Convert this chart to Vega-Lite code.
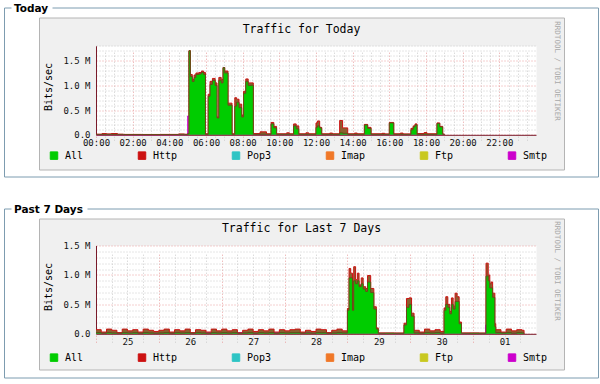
{
  "$schema": "https://vega.github.io/schema/vega-lite/v6.json",
  "background": "#ffffff",
  "padding": {"left": 3, "top": 3.5, "right": 3, "bottom": 3},
  "spacing": 17,
  "datasets": {
    "today": [
      {"t":0,"all":0.008,"http":0.012,"smtp":0.003},
      {"t":0.33,"all":0.010,"http":0.025,"smtp":0.003},
      {"t":0.58,"all":0.010,"http":0.018,"smtp":0.003},
      {"t":0.83,"all":0.010,"http":0.026,"smtp":0.003},
      {"t":1.17,"all":0.008,"http":0.012,"smtp":0.003},
      {"t":1.5,"all":0.006,"http":0.008,"smtp":0.002},
      {"t":2.5,"all":0.006,"http":0.007,"smtp":0.002},
      {"t":3.5,"all":0.006,"http":0.008,"smtp":0.002},
      {"t":4.5,"all":0.010,"http":0.016,"smtp":0.003},
      {"t":4.83,"all":0.008,"http":0.010,"smtp":0.003},
      {"t":5.0,"all":0.020,"http":0.022,"smtp":0.38},
      {"t":5.07,"all":1.70,"http":1.70,"smtp":0.01},
      {"t":5.15,"all":1.18,"http":1.22,"smtp":0.01},
      {"t":5.25,"all":1.08,"http":1.12,"smtp":0.01},
      {"t":5.35,"all":1.16,"http":1.21,"smtp":0.01},
      {"t":5.45,"all":1.22,"http":1.25,"smtp":0.01},
      {"t":5.62,"all":1.23,"http":1.26,"smtp":0.01},
      {"t":5.75,"all":1.26,"http":1.29,"smtp":0.01},
      {"t":5.87,"all":1.22,"http":1.26,"smtp":0.01},
      {"t":5.97,"all":0.010,"http":0.020,"smtp":0.005},
      {"t":6.12,"all":0.78,"http":0.82,"smtp":0.01},
      {"t":6.22,"all":1.02,"http":1.08,"smtp":0.01},
      {"t":6.35,"all":1.10,"http":1.14,"smtp":0.01},
      {"t":6.5,"all":1.00,"http":1.05,"smtp":0.01},
      {"t":6.6,"all":0.34,"http":0.36,"smtp":0.01},
      {"t":6.7,"all":1.10,"http":1.16,"smtp":0.01},
      {"t":6.83,"all":1.05,"http":1.12,"smtp":0.01},
      {"t":6.93,"all":1.36,"http":1.36,"smtp":0.01},
      {"t":7.02,"all":1.25,"http":1.29,"smtp":0.01},
      {"t":7.2,"all":0.60,"http":0.64,"smtp":0.01},
      {"t":7.42,"all":0.010,"http":0.020,"smtp":0.005},
      {"t":7.57,"all":0.58,"http":0.75,"smtp":0.01},
      {"t":7.67,"all":0.66,"http":0.72,"smtp":0.01},
      {"t":7.8,"all":0.55,"http":0.62,"smtp":0.01},
      {"t":7.95,"all":0.36,"http":0.40,"smtp":0.01},
      {"t":8.05,"all":0.84,"http":0.88,"smtp":0.01},
      {"t":8.17,"all":1.08,"http":1.13,"smtp":0.01},
      {"t":8.3,"all":1.00,"http":1.05,"smtp":0.01},
      {"t":8.58,"all":0.010,"http":0.025,"smtp":0.005},
      {"t":8.95,"all":0.012,"http":0.060,"smtp":0.005},
      {"t":9.3,"all":0.010,"http":0.020,"smtp":0.005},
      {"t":9.55,"all":0.22,"http":0.25,"smtp":0.005},
      {"t":9.7,"all":0.14,"http":0.17,"smtp":0.005},
      {"t":9.85,"all":0.010,"http":0.020,"smtp":0.005},
      {"t":10.4,"all":0.012,"http":0.040,"smtp":0.005},
      {"t":10.55,"all":0.010,"http":0.020,"smtp":0.005},
      {"t":10.78,"all":0.18,"http":0.22,"smtp":0.005},
      {"t":10.92,"all":0.12,"http":0.18,"smtp":0.005},
      {"t":11.06,"all":0.010,"http":0.020,"smtp":0.005},
      {"t":11.45,"all":0.010,"http":0.040,"smtp":0.005},
      {"t":11.6,"all":0.010,"http":0.020,"smtp":0.005},
      {"t":12.0,"all":0.15,"http":0.24,"smtp":0.005},
      {"t":12.08,"all":0.18,"http":0.28,"smtp":0.005},
      {"t":12.2,"all":0.14,"http":0.15,"smtp":0.005},
      {"t":12.31,"all":0.010,"http":0.020,"smtp":0.005},
      {"t":12.75,"all":0.010,"http":0.035,"smtp":0.005},
      {"t":12.9,"all":0.010,"http":0.020,"smtp":0.005},
      {"t":13.29,"all":0.04,"http":0.29,"smtp":0.005},
      {"t":13.45,"all":0.03,"http":0.14,"smtp":0.005},
      {"t":13.73,"all":0.010,"http":0.020,"smtp":0.005},
      {"t":14.1,"all":0.010,"http":0.035,"smtp":0.005},
      {"t":14.25,"all":0.010,"http":0.020,"smtp":0.005},
      {"t":14.64,"all":0.20,"http":0.21,"smtp":0.005},
      {"t":14.82,"all":0.13,"http":0.15,"smtp":0.005},
      {"t":15.0,"all":0.010,"http":0.020,"smtp":0.005},
      {"t":15.6,"all":0.010,"http":0.030,"smtp":0.005},
      {"t":15.75,"all":0.010,"http":0.018,"smtp":0.005},
      {"t":16.0,"all":0.24,"http":0.25,"smtp":0.005},
      {"t":16.24,"all":0.010,"http":0.020,"smtp":0.005},
      {"t":16.6,"all":0.010,"http":0.035,"smtp":0.005},
      {"t":16.75,"all":0.010,"http":0.018,"smtp":0.005},
      {"t":17.18,"all":0.10,"http":0.13,"smtp":0.005},
      {"t":17.3,"all":0.16,"http":0.18,"smtp":0.005},
      {"t":17.4,"all":0.20,"http":0.22,"smtp":0.005},
      {"t":17.51,"all":0.010,"http":0.025,"smtp":0.005},
      {"t":17.9,"all":0.015,"http":0.045,"smtp":0.005},
      {"t":18.05,"all":0.010,"http":0.020,"smtp":0.005},
      {"t":18.6,"all":0.23,"http":0.24,"smtp":0.005},
      {"t":18.75,"all":0.16,"http":0.17,"smtp":0.005},
      {"t":18.91,"all":0.010,"http":0.015,"smtp":0.005},
      {"t":19.0,"all":0,"http":0,"smtp":0}
    ],
    "week": [
      {"t":0.000,"all":0.020,"http":0.07,"smtp":0.006},
      {"t":0.083,"all":0.010,"http":0.03,"smtp":0.006},
      {"t":0.167,"all":0.020,"http":0.08,"smtp":0.012},
      {"t":0.250,"all":0.015,"http":0.06,"smtp":0.006},
      {"t":0.333,"all":0.010,"http":0.02,"smtp":0.006},
      {"t":0.417,"all":0.020,"http":0.08,"smtp":0.006},
      {"t":0.500,"all":0.015,"http":0.05,"smtp":0.010},
      {"t":0.583,"all":0.020,"http":0.07,"smtp":0.006},
      {"t":0.667,"all":0.010,"http":0.03,"smtp":0.006},
      {"t":0.750,"all":0.020,"http":0.08,"smtp":0.006},
      {"t":0.833,"all":0.015,"http":0.06,"smtp":0.006},
      {"t":0.917,"all":0.010,"http":0.04,"smtp":0.006},
      {"t":1.000,"all":0.015,"http":0.06,"smtp":0.006},
      {"t":1.083,"all":0.020,"http":0.08,"smtp":0.006},
      {"t":1.167,"all":0.010,"http":0.03,"smtp":0.006},
      {"t":1.250,"all":0.020,"http":0.07,"smtp":0.012},
      {"t":1.333,"all":0.015,"http":0.05,"smtp":0.006},
      {"t":1.417,"all":0.020,"http":0.08,"smtp":0.006},
      {"t":1.500,"all":0.010,"http":0.02,"smtp":0.006},
      {"t":1.583,"all":0.020,"http":0.07,"smtp":0.006},
      {"t":1.667,"all":0.015,"http":0.06,"smtp":0.006},
      {"t":1.750,"all":0.010,"http":0.03,"smtp":0.010},
      {"t":1.833,"all":0.020,"http":0.08,"smtp":0.006},
      {"t":1.917,"all":0.015,"http":0.05,"smtp":0.006},
      {"t":2.000,"all":0.020,"http":0.08,"smtp":0.006},
      {"t":2.083,"all":0.015,"http":0.05,"smtp":0.006},
      {"t":2.167,"all":0.020,"http":0.07,"smtp":0.006},
      {"t":2.250,"all":0.010,"http":0.02,"smtp":0.012},
      {"t":2.333,"all":0.015,"http":0.06,"smtp":0.006},
      {"t":2.417,"all":0.020,"http":0.08,"smtp":0.006},
      {"t":2.500,"all":0.010,"http":0.04,"smtp":0.006},
      {"t":2.583,"all":0.020,"http":0.07,"smtp":0.006},
      {"t":2.667,"all":0.015,"http":0.05,"smtp":0.006},
      {"t":2.750,"all":0.020,"http":0.08,"smtp":0.006},
      {"t":2.833,"all":0.010,"http":0.03,"smtp":0.010},
      {"t":2.917,"all":0.020,"http":0.07,"smtp":0.006},
      {"t":3.000,"all":0.015,"http":0.05,"smtp":0.006},
      {"t":3.083,"all":0.020,"http":0.07,"smtp":0.006},
      {"t":3.167,"all":0.020,"http":0.08,"smtp":0.006},
      {"t":3.250,"all":0.010,"http":0.03,"smtp":0.006},
      {"t":3.333,"all":0.015,"http":0.06,"smtp":0.012},
      {"t":3.417,"all":0.010,"http":0.04,"smtp":0.006},
      {"t":3.500,"all":0.020,"http":0.08,"smtp":0.006},
      {"t":3.583,"all":0.020,"http":0.07,"smtp":0.006},
      {"t":3.667,"all":0.010,"http":0.02,"smtp":0.006},
      {"t":3.750,"all":0.015,"http":0.06,"smtp":0.006},
      {"t":3.833,"all":0.020,"http":0.08,"smtp":0.006},
      {"t":3.917,"all":0.015,"http":0.05,"smtp":0.006},
      {"t":4.000,"all":0.40,"http":0.43,"smtp":0.008},
      {"t":4.026,"all":0.95,"http":1.11,"smtp":0.008},
      {"t":4.052,"all":0.95,"http":1.03,"smtp":0.008},
      {"t":4.080,"all":0.40,"http":0.43,"smtp":0.008},
      {"t":4.100,"all":0.90,"http":1.14,"smtp":0.008},
      {"t":4.130,"all":0.85,"http":0.92,"smtp":0.008},
      {"t":4.158,"all":0.90,"http":1.03,"smtp":0.008},
      {"t":4.185,"all":0.80,"http":0.83,"smtp":0.008},
      {"t":4.220,"all":0.85,"http":0.95,"smtp":0.008},
      {"t":4.250,"all":0.76,"http":0.80,"smtp":0.008},
      {"t":4.290,"all":0.72,"http":0.77,"smtp":0.008},
      {"t":4.320,"all":0.88,"http":0.99,"smtp":0.008},
      {"t":4.370,"all":0.70,"http":0.77,"smtp":0.008},
      {"t":4.420,"all":0.42,"http":0.46,"smtp":0.008},
      {"t":4.460,"all":0.08,"http":0.10,"smtp":0.006},
      {"t":4.490,"all":0.010,"http":0.015,"smtp":0.004},
      {"t":4.600,"all":0.012,"http":0.014,"smtp":0.004},
      {"t":4.750,"all":0.010,"http":0.013,"smtp":0.004},
      {"t":4.900,"all":0.15,"http":0.18,"smtp":0.006},
      {"t":4.940,"all":0.45,"http":0.60,"smtp":0.006},
      {"t":4.980,"all":0.50,"http":0.61,"smtp":0.006},
      {"t":5.020,"all":0.30,"http":0.35,"smtp":0.006},
      {"t":5.060,"all":0.015,"http":0.06,"smtp":0.006},
      {"t":5.143,"all":0.010,"http":0.03,"smtp":0.006},
      {"t":5.226,"all":0.020,"http":0.08,"smtp":0.006},
      {"t":5.310,"all":0.015,"http":0.05,"smtp":0.006},
      {"t":5.393,"all":0.020,"http":0.07,"smtp":0.006},
      {"t":5.476,"all":0.010,"http":0.04,"smtp":0.006},
      {"t":5.538,"all":0.40,"http":0.44,"smtp":0.006},
      {"t":5.565,"all":0.50,"http":0.63,"smtp":0.006},
      {"t":5.597,"all":0.45,"http":0.50,"smtp":0.006},
      {"t":5.629,"all":0.34,"http":0.38,"smtp":0.006},
      {"t":5.655,"all":0.50,"http":0.61,"smtp":0.006},
      {"t":5.682,"all":0.42,"http":0.47,"smtp":0.006},
      {"t":5.713,"all":0.55,"http":0.69,"smtp":0.006},
      {"t":5.745,"all":0.55,"http":0.63,"smtp":0.006},
      {"t":5.777,"all":0.17,"http":0.20,"smtp":0.006},
      {"t":5.814,"all":0.010,"http":0.015,"smtp":0.004},
      {"t":5.950,"all":0.012,"http":0.014,"smtp":0.004},
      {"t":6.100,"all":0.010,"http":0.013,"smtp":0.004},
      {"t":6.200,"all":0.010,"http":0.013,"smtp":0.15},
      {"t":6.205,"all":0.98,"http":1.20,"smtp":0.008},
      {"t":6.240,"all":0.90,"http":1.00,"smtp":0.008},
      {"t":6.265,"all":0.78,"http":0.85,"smtp":0.008},
      {"t":6.285,"all":0.78,"http":0.88,"smtp":0.008},
      {"t":6.310,"all":0.62,"http":0.69,"smtp":0.008},
      {"t":6.345,"all":0.12,"http":0.17,"smtp":0.006},
      {"t":6.360,"all":0.020,"http":0.07,"smtp":0.006},
      {"t":6.443,"all":0.015,"http":0.03,"smtp":0.006},
      {"t":6.526,"all":0.020,"http":0.08,"smtp":0.006},
      {"t":6.610,"all":0.010,"http":0.05,"smtp":0.006},
      {"t":6.693,"all":0.020,"http":0.07,"smtp":0.006},
      {"t":6.776,"all":0.015,"http":0.06,"smtp":0.006},
      {"t":6.810,"all":0,"http":0,"smtp":0}
    ]
  },
  "resolve": {"legend": {"color": "independent"}},
  "vconcat": [
    {
      "title": {"text": "Today", "anchor": "start", "frame": "group", "dx": -25, "offset": -7},
      "width": 525,
      "height": 152,
      "data": {"name": "today"},
      "resolve": {"scale": {"x": "independent", "y": "independent"}, "axis": {"x": "independent", "y": "independent"}},
      "layer": [
        {
          "mark": {"type": "area", "interpolate": "step-after", "color": "#8a6030"},
          "encoding": {
            "x": {"field": "t", "type": "quantitative", "scale": {"domain": [0, 24], "range": [57, 497], "nice": false, "zero": false},
                  "axis": {"orient": "top", "labels": false, "ticks": false, "domain": false,
                           "values": [12], "grid": true, "gridColor": "#ffffff", "gridWidth": 440, "gridOpacity": 1,
                           "title": "Traffic for Today", "titleFont": "DejaVu Sans Mono", "titleFontSize": 11.5, "titleFontWeight": "normal",
                           "titleColor": "#000000", "titleX": 262, "titleY": 11.7, "titleAlign": "center", "titleBaseline": "middle"}},
            "y": {"field": "http", "type": "quantitative", "scale": {"domain": [0, 1.8], "range": [117.3, 28.3], "nice": false, "zero": false},
                  "axis": {"orient": "right", "labels": false, "ticks": false, "domain": false, "grid": false,
                           "title": "RRDTOOL / TOBI OETIKER", "titleFont": "DejaVu Sans Mono", "titleFontSize": 7.5, "titleFontWeight": "normal",
                           "titleColor": "#a8a8a8", "titleAngle": 90, "titleX": -8, "titleY": 53, "titleAlign": "center", "titleBaseline": "middle"}}
          }
        },
        {
          "mark": {"type": "line", "interpolate": "step-after", "strokeWidth": 1},
          "encoding": {
            "x": {"field": "t", "type": "quantitative", "scale": {"domain": [0, 24], "range": [57, 497], "nice": false, "zero": false}, "axis": null},
            "y": {"field": "http", "type": "quantitative", "scale": {"domain": [0, 1.8], "range": [117.3, 28.3], "nice": false, "zero": false}, "axis": null},
            "color": {"datum": "Http", "type": "nominal"}
          }
        },
        {
          "mark": {"type": "line", "interpolate": "step-after", "strokeWidth": 1},
          "encoding": {
            "x": {"field": "t", "type": "quantitative", "scale": {"domain": [-5.01818, 27.38182], "range": [-35, 559], "nice": false, "zero": false},
                  "axis": {"orient": "top", "offset": 10, "labels": false, "ticks": false, "grid": false, "title": null,
                           "domainColor": "#7d9cb0", "domainWidth": 1, "domainDash": [7, 41, 600]}},
            "y": {"field": "smtp", "type": "quantitative", "scale": {"domain": [-0.84337, 2.57461], "range": [159, -10], "nice": false, "zero": false},
                  "axis": {"orient": "left", "offset": 35, "labels": false, "ticks": false, "grid": false, "title": null,
                           "domainColor": "#7d9cb0", "domainWidth": 1}},
            "color": {"datum": "Smtp", "type": "nominal"}
          }
        },
        {
          "mark": {"type": "area", "interpolate": "step-after", "opacity": 1},
          "encoding": {
            "x": {"field": "t", "type": "quantitative", "scale": {"domain": [0, 24], "range": [57, 497], "nice": false, "zero": false},
                  "axis": {"orient": "bottom", "offset": -34.7, "title": null,
                           "values": [0,0.5,1,1.5,2,2.5,3,3.5,4,4.5,5,5.5,6,6.5,7,7.5,8,8.5,9,9.5,10,10.5,11,11.5,12,12.5,13,13.5,14,14.5,15,15.5,16,16.5,17,17.5,18,18.5,19,19.5,20,20.5,21,21.5,22,22.5,23,23.5],
                           "labelExpr": "datum.value % 2 === 0 ? (datum.value < 10 ? '0' : '') + datum.value + ':00' : ''",
                           "grid": true, "gridDash": [1, 2],
                           "gridColor": {"condition": {"test": "datum.value % 2 === 0", "value": "#e9a0a0"}, "value": "#cccccc"},
                           "ticks": false, "domainColor": "#7a1a2a", "labelFont": "DejaVu Sans Mono", "labelFontSize": 9,
                           "labelColor": "#111111", "labelPadding": 4, "labelOverlap": false, "labelFlush": false}},
            "y": {"field": "all", "type": "quantitative", "scale": {"domain": [0, 1.8], "range": [117.3, 28.3], "nice": false, "zero": false},
                  "axis": {"orient": "left", "offset": -57,
                           "values": [0,0.1,0.2,0.3,0.4,0.5,0.6,0.7,0.8,0.9,1.0,1.1,1.2,1.3,1.4,1.5,1.6,1.7,1.8],
                           "labelExpr": "datum.value === 0 ? '0.0' : (round(datum.value*10) % 5 === 0 ? format(datum.value, '.1f') + ' M' : '')",
                           "grid": true, "gridDash": [1, 2],
                           "gridColor": {"condition": {"test": "round(datum.value*10) % 5 === 0", "value": "#e9a0a0"}, "value": "#cccccc"},
                           "ticks": false, "domainColor": "#7a1a2a", "labelFont": "DejaVu Sans Mono", "labelFontSize": 9,
                           "labelColor": "#111111", "labelPadding": 6, "labelBaseline": "middle",
                           "title": "Bits/sec", "titleFont": "DejaVu Sans Mono", "titleFontSize": 10, "titleFontWeight": "normal",
                           "titleColor": "#000000", "titleX": -48, "titleY": 69, "titleAlign": "center", "titleBaseline": "middle"}},
            "color": {"datum": "All", "type": "nominal",
                      "scale": {"domain": ["All", "Http", "Pop3", "Imap", "Ftp", "Smtp"],
                                "range": ["#00cc00", "#cc1111", "#2ec4c4", "#f07828", "#c8c820", "#cc00cc"]},
                      "legend": {"orient": "none", "legendX": 10, "legendY": 133, "direction": "horizontal", "columns": 6,
                                 "title": null, "symbolType": "square", "symbolSize": 56, "symbolStrokeColor": "#000000",
                                 "symbolStrokeWidth": 1, "labelFont": "DejaVu Sans Mono", "labelFontSize": 10, "labelColor": "#000000",
                                 "labelOffset": 6, "columnPadding": 52}}
          }
        },
        {
          "mark": {"type": "line", "interpolate": "step-after", "strokeWidth": 1, "color": "#6b4a1a"},
          "encoding": {
            "x": {"field": "t", "type": "quantitative", "scale": {"domain": [-5.01818, 27.38182], "range": [-35, 559], "nice": false, "zero": false},
                  "axis": {"orient": "bottom", "offset": 7, "labels": false, "ticks": false, "grid": false, "title": null,
                           "domainColor": "#7d9cb0", "domainWidth": 1}},
            "y": {"field": "all", "type": "quantitative", "scale": {"domain": [-0.84337, 2.57461], "range": [159, -10], "nice": false, "zero": false},
                  "axis": {"orient": "right", "offset": 34, "labels": false, "ticks": false, "grid": false, "title": null,
                           "domainColor": "#7d9cb0", "domainWidth": 1}}
          }
        }
      ]
    },
    {
      "title": {"text": "Past 7 Days", "anchor": "start", "frame": "group", "dx": -25, "offset": -7},
      "width": 525,
      "height": 151,
      "data": {"name": "week"},
      "resolve": {"scale": {"x": "independent", "y": "independent"}, "axis": {"x": "independent", "y": "independent"}},
      "layer": [
        {
          "mark": {"type": "area", "interpolate": "step-after", "color": "#8a6030"},
          "encoding": {
            "x": {"field": "t", "type": "quantitative", "scale": {"domain": [0, 7], "range": [57, 497], "nice": false, "zero": false},
                  "axis": {"orient": "top", "labels": false, "ticks": false, "domain": false,
                           "values": [3.5], "grid": true, "gridColor": "#ffffff", "gridWidth": 440, "gridOpacity": 1,
                           "title": "Traffic for Last 7 Days", "titleFont": "DejaVu Sans Mono", "titleFontSize": 11.5, "titleFontWeight": "normal",
                           "titleColor": "#000000", "titleX": 262, "titleY": 10.3, "titleAlign": "center", "titleBaseline": "middle"}},
            "y": {"field": "http", "type": "quantitative", "scale": {"domain": [0, 1.5], "range": [115.3, 27], "nice": false, "zero": false},
                  "axis": {"orient": "right", "labels": false, "ticks": false, "domain": false, "grid": false,
                           "title": "RRDTOOL / TOBI OETIKER", "titleFont": "DejaVu Sans Mono", "titleFontSize": 7.5, "titleFontWeight": "normal",
                           "titleColor": "#a8a8a8", "titleAngle": 90, "titleX": -8, "titleY": 52, "titleAlign": "center", "titleBaseline": "middle"}}
          }
        },
        {
          "mark": {"type": "line", "interpolate": "step-after", "strokeWidth": 1},
          "encoding": {
            "x": {"field": "t", "type": "quantitative", "scale": {"domain": [0, 7], "range": [57, 497], "nice": false, "zero": false}, "axis": null},
            "y": {"field": "http", "type": "quantitative", "scale": {"domain": [0, 1.5], "range": [115.3, 27], "nice": false, "zero": false}, "axis": null},
            "color": {"datum": "Http", "type": "nominal"}
          }
        },
        {
          "mark": {"type": "line", "interpolate": "step-after", "strokeWidth": 1},
          "encoding": {
            "x": {"field": "t", "type": "quantitative", "scale": {"domain": [-1.46364, 7.98636], "range": [-35, 559], "nice": false, "zero": false},
                  "axis": {"orient": "top", "offset": 10, "labels": false, "ticks": false, "grid": false, "title": null,
                           "domainColor": "#7d9cb0", "domainWidth": 1, "domainDash": [7, 76, 600]}},
            "y": {"field": "smtp", "type": "quantitative", "scale": {"domain": [-0.74236, 2.12854], "range": [159, -10], "nice": false, "zero": false},
                  "axis": {"orient": "left", "offset": 35, "labels": false, "ticks": false, "grid": false, "title": null,
                           "domainColor": "#7d9cb0", "domainWidth": 1}},
            "color": {"datum": "Smtp", "type": "nominal"}
          }
        },
        {
          "mark": {"type": "area", "interpolate": "step-after", "opacity": 1},
          "encoding": {
            "x": {"field": "t", "type": "quantitative", "scale": {"domain": [0, 7], "range": [57, 497], "nice": false, "zero": false},
                  "axis": {"orient": "bottom", "offset": -35.7, "title": null,
                           "values": [0,0.25,0.5,0.75,1,1.25,1.5,1.75,2,2.25,2.5,2.75,3,3.25,3.5,3.75,4,4.25,4.5,4.75,5,5.25,5.5,5.75,6,6.25,6.5,6.75],
                           "labelExpr": "datum.value % 1 === 0.5 ? ['25','26','27','28','29','30','01'][floor(datum.value)] : ''",
                           "grid": true, "gridDash": [1, 2],
                           "gridColor": {"condition": {"test": "datum.value % 1 === 0", "value": "#e9a0a0"}, "value": "#cccccc"},
                           "ticks": false, "domainColor": "#7a1a2a", "labelFont": "DejaVu Sans Mono", "labelFontSize": 9,
                           "labelColor": "#111111", "labelPadding": 4, "labelOverlap": false, "labelFlush": false}},
            "y": {"field": "all", "type": "quantitative", "scale": {"domain": [0, 1.5], "range": [115.3, 27], "nice": false, "zero": false},
                  "axis": {"orient": "left", "offset": -57,
                           "values": [0,0.1,0.2,0.3,0.4,0.5,0.6,0.7,0.8,0.9,1.0,1.1,1.2,1.3,1.4,1.5],
                           "labelExpr": "datum.value === 0 ? '0.0' : (round(datum.value*10) % 5 === 0 ? format(datum.value, '.1f') + ' M' : '')",
                           "grid": true, "gridDash": [1, 2],
                           "gridColor": {"condition": {"test": "round(datum.value*10) % 5 === 0", "value": "#e9a0a0"}, "value": "#cccccc"},
                           "ticks": false, "domainColor": "#7a1a2a", "labelFont": "DejaVu Sans Mono", "labelFontSize": 9,
                           "labelColor": "#111111", "labelPadding": 6, "labelBaseline": "middle",
                           "title": "Bits/sec", "titleFont": "DejaVu Sans Mono", "titleFontSize": 10, "titleFontWeight": "normal",
                           "titleColor": "#000000", "titleX": -48, "titleY": 68, "titleAlign": "center", "titleBaseline": "middle"}},
            "color": {"datum": "All", "type": "nominal",
                      "legend": {"orient": "none", "legendX": 10, "legendY": 134, "direction": "horizontal", "columns": 6,
                                 "title": null, "symbolType": "square", "symbolSize": 56, "symbolStrokeColor": "#000000",
                                 "symbolStrokeWidth": 1, "labelFont": "DejaVu Sans Mono", "labelFontSize": 10, "labelColor": "#000000",
                                 "labelOffset": 6, "columnPadding": 52}}
          }
        },
        {
          "mark": {"type": "line", "interpolate": "step-after", "strokeWidth": 1, "color": "#6b4a1a"},
          "encoding": {
            "x": {"field": "t", "type": "quantitative", "scale": {"domain": [-1.46364, 7.98636], "range": [-35, 559], "nice": false, "zero": false},
                  "axis": {"orient": "bottom", "offset": 8, "labels": false, "ticks": false, "grid": false, "title": null,
                           "domainColor": "#7d9cb0", "domainWidth": 1}},
            "y": {"field": "all", "type": "quantitative", "scale": {"domain": [-0.74236, 2.12854], "range": [159, -10], "nice": false, "zero": false},
                  "axis": {"orient": "right", "offset": 34, "labels": false, "ticks": false, "grid": false, "title": null,
                           "domainColor": "#7d9cb0", "domainWidth": 1}}
          }
        }
      ]
    }
  ],
  "config": {
    "view": {"fill": "#f0f0f0", "stroke": "#b4b4b4"},
    "title": {"font": "DejaVu Sans", "fontWeight": "bold", "fontSize": 10.5, "color": "#000000"}
  }
}
